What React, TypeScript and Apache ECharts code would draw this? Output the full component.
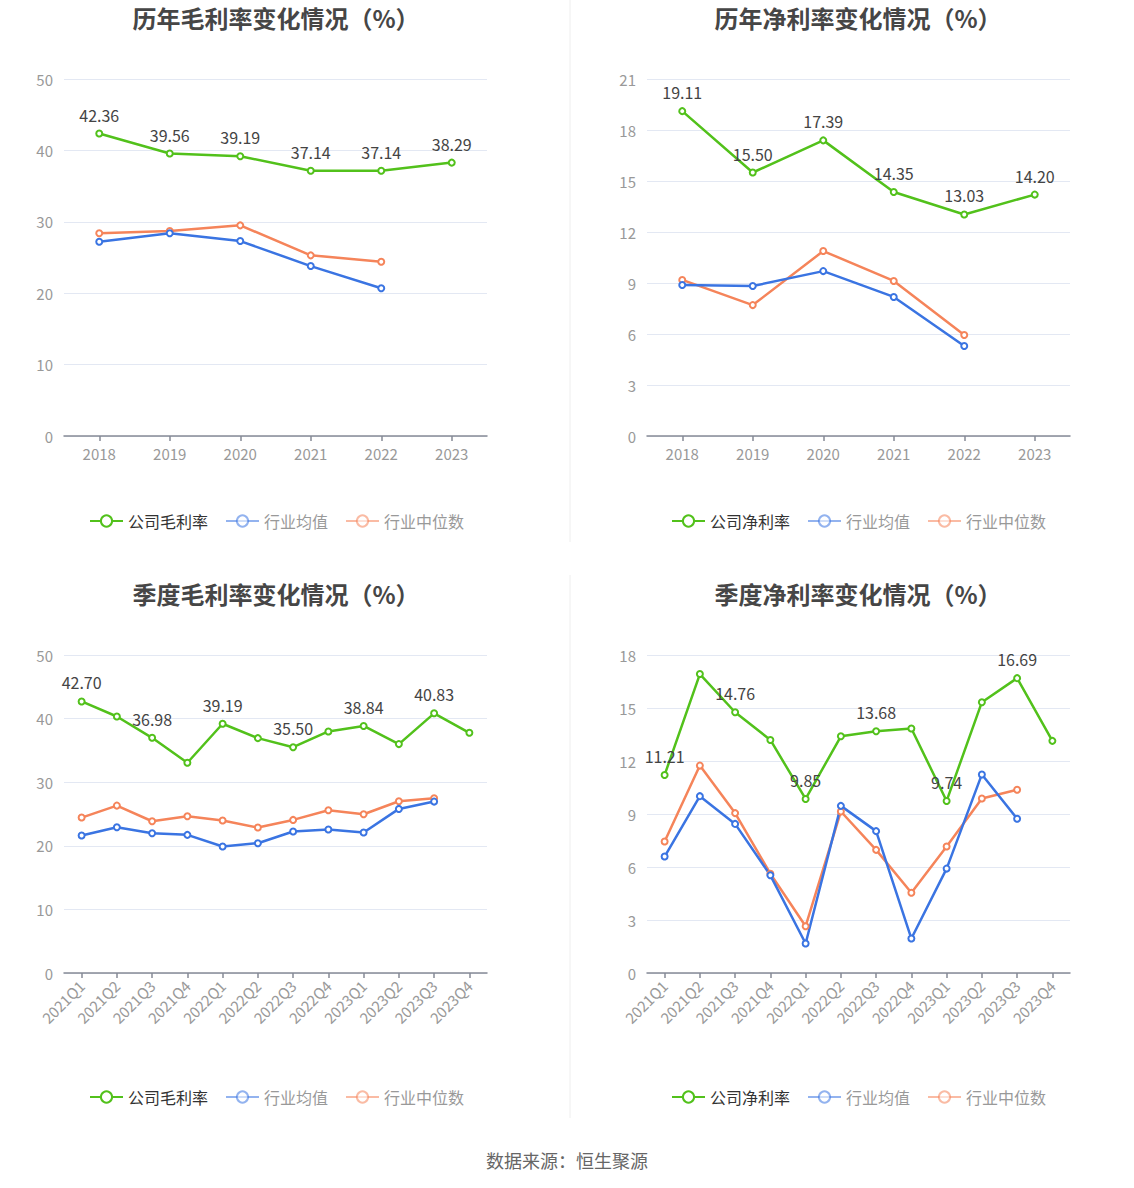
import React, { useEffect, useRef } from "react";
import * as echarts from "echarts";

const years = ["2018", "2019", "2020", "2021", "2022", "2023"];
const quarters = [
  "2021Q1", "2021Q2", "2021Q3", "2021Q4",
  "2022Q1", "2022Q2", "2022Q3", "2022Q4",
  "2023Q1", "2023Q2", "2023Q3", "2023Q4",
];

const annualGrossCompany = [42.36, 39.56, 39.19, 37.14, 37.14, 38.29];
const annualGrossAvg = [27.2, 28.4, 27.3, 23.8, 20.7];
const annualGrossMedian = [28.4, 28.7, 29.5, 25.3, 24.4];

const annualNetCompany = [19.11, 15.5, 17.39, 14.35, 13.03, 14.2];
const annualNetAvg = [8.88, 8.82, 9.7, 8.18, 5.29];
const annualNetMedian = [9.18, 7.7, 10.88, 9.12, 5.94];

const qGrossCompany = [42.7, 40.33, 36.98, 33.06, 39.19, 36.93, 35.5, 37.98, 38.84, 35.99, 40.83, 37.77];
const qGrossAvg = [21.62, 22.92, 21.98, 21.72, 19.89, 20.41, 22.24, 22.56, 22.09, 25.8, 26.95];
const qGrossMedian = [24.44, 26.32, 23.86, 24.65, 23.97, 22.87, 24.07, 25.59, 24.96, 27.0, 27.47];

const qNetCompany = [11.21, 16.92, 14.76, 13.19, 9.85, 13.4, 13.68, 13.84, 9.74, 15.33, 16.69, 13.14];
const qNetAvg = [6.59, 10.01, 8.44, 5.53, 1.67, 9.46, 8.03, 1.95, 5.91, 11.24, 8.73];
const qNetMedian = [7.44, 11.74, 9.05, 5.62, 2.65, 9.14, 6.97, 4.54, 7.16, 9.88, 10.37];

const titles = [
  "历年毛利率变化情况（%）",
  "历年净利率变化情况（%）",
  "季度毛利率变化情况（%）",
  "季度净利率变化情况（%）",
];
const companyNames = ["公司毛利率", "公司净利率", "公司毛利率", "公司净利率"];
const avgName = "行业均值";
const medianName = "行业中位数";
const sourceText = "数据来源：恒生聚源";

const GREEN = "#52c11b";
const BLUE = "#3a74e2";
const ORANGE = "#f5845a";
const FONT = "'Noto Sans CJK SC', 'Noto Sans', sans-serif";

export default function App() {
  const ref = useRef<HTMLDivElement>(null);

  useEffect(() => {
    document.body.style.margin = "0";
    if (!ref.current) return;
    const chart = echarts.init(ref.current, undefined, { renderer: "svg" });

    const grids = [
      { left: 64, top: 79, width: 423, height: 357 },
      { left: 647, top: 79, width: 423, height: 357 },
      { left: 64, top: 655, width: 423, height: 318 },
      { left: 647, top: 655, width: 423, height: 318 },
    ];
    const centers = [271, 853, 271, 853];
    const titleTops = [0, 0, 576, 576];
    const legendTops = [508, 508, 1084, 1084];
    const legendLefts = [84, 666, 84, 666];
    const cats = [years, years, quarters, quarters];
    const yMax = [50, 21, 50, 18];
    const yInt = [10, 3, 10, 3];
    const company = [annualGrossCompany, annualNetCompany, qGrossCompany, qNetCompany];
    const avg = [annualGrossAvg, annualNetAvg, qGrossAvg, qNetAvg];
    const median = [annualGrossMedian, annualNetMedian, qGrossMedian, qNetMedian];

    const series: any[] = [];
    for (let i = 0; i < 4; i++) {
      const base = {
        type: "line",
        xAxisIndex: i,
        yAxisIndex: i,
        symbol: "emptyCircle",
        symbolSize: 6,
        showSymbol: true,
      };
      series.push({
        ...base,
        name: medianName,
        itemStyle: { color: ORANGE, borderWidth: 2 },
        lineStyle: { width: 2.5, color: ORANGE },
        data: median[i],
      });
      series.push({
        ...base,
        name: avgName,
        itemStyle: { color: BLUE, borderWidth: 2 },
        lineStyle: { width: 2.5, color: BLUE },
        data: avg[i],
      });
      const quarterly = i >= 2;
      series.push({
        ...base,
        name: companyNames[i],
        itemStyle: { color: GREEN, borderWidth: 2 },
        lineStyle: { width: 2.5, color: GREEN },
        label: {
          show: true,
          position: "top",
          distance: 7,
          fontSize: 16,
          color: "#444",
          fontFamily: FONT,
          formatter: (p: any) => Number(p.value).toFixed(2),
        },
        data: company[i].map((v, k) =>
          quarterly ? { value: v, label: { show: k % 2 === 0 } } : v
        ),
      });
    }

    const option: any = {
      animation: false,
      backgroundColor: "#fff",
      textStyle: { fontFamily: FONT },
      title: titles.map((t, i) => ({
        text: t,
        left: centers[i],
        top: titleTops[i],
        textAlign: "center",
        textStyle: { fontSize: 24, fontWeight: "bold", color: "#464646", fontFamily: FONT },
      })),
      legend: [0, 1, 2, 3].map((i) => ({
        left: legendLefts[i],
        top: legendTops[i],
        itemWidth: 33,
        itemHeight: 14,
        itemGap: 17,
        textStyle: { fontSize: 16, color: "#333", fontFamily: FONT },
        data: [
          { name: companyNames[i] },
          {
            name: avgName,
            itemStyle: { opacity: 0.55 },
            lineStyle: { opacity: 0.55 },
            textStyle: { color: "#999" },
          },
          {
            name: medianName,
            itemStyle: { opacity: 0.55 },
            lineStyle: { opacity: 0.55 },
            textStyle: { color: "#999" },
          },
        ],
        selectedMode: false,
      })),
      grid: grids.map((g) => ({ ...g, containLabel: false })),
      xAxis: [0, 1, 2, 3].map((i) => ({
        type: "category",
        gridIndex: i,
        data: cats[i],
        boundaryGap: true,
        axisLine: { show: true, lineStyle: { color: "#868a96", width: 1.5 } },
        axisTick: { show: true, alignWithLabel: true, length: 5, lineStyle: { color: "#868a96", width: 1.5 } },
        axisLabel: {
          color: "#999",
          fontSize: 15,
          margin: 10,
          rotate: i >= 2 ? 45 : 0,
          interval: 0,
          fontFamily: FONT,
        },
      })),
      yAxis: [0, 1, 2, 3].map((i) => ({
        type: "value",
        gridIndex: i,
        min: 0,
        max: yMax[i],
        interval: yInt[i],
        axisLine: { show: false },
        axisTick: { show: false },
        axisLabel: { color: "#999", fontSize: 15, margin: 11, fontFamily: FONT },
        splitLine: { lineStyle: { color: "#e3e8f3", width: 1 } },
      })),
      graphic: [
        {
          type: "line",
          shape: { x1: 570, y1: 0, x2: 570, y2: 542 },
          style: { stroke: "#eeeeee", lineWidth: 1 },
        },
        {
          type: "line",
          shape: { x1: 570, y1: 575, x2: 570, y2: 1118 },
          style: { stroke: "#eeeeee", lineWidth: 1 },
        },
        {
          type: "text",
          x: 567,
          y: 1160,
          style: {
            text: sourceText,
            fill: "#666",
            fontSize: 18,
            fontFamily: FONT,
            textAlign: "center",
            textVerticalAlign: "middle",
          },
        },
      ],
      series,
    };

    chart.setOption(option);
    return () => chart.dispose();
  }, []);

  return <div ref={ref} style={{ width: 1134, height: 1188 }} />;
}
